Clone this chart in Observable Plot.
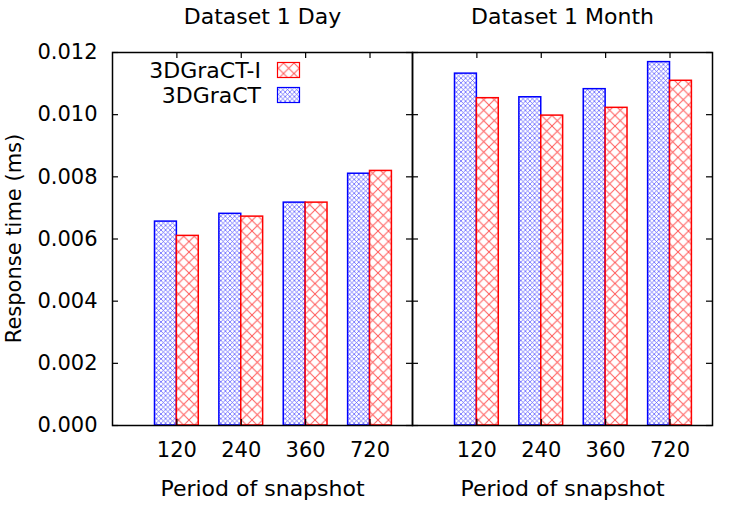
<!DOCTYPE html>
<html>
<head>
<meta charset="utf-8">
<script src="https://cdn.jsdelivr.net/npm/d3@7"></script>
<script src="https://cdn.jsdelivr.net/npm/@observablehq/plot@0.6"></script>
<style>
  html, body { margin: 0; padding: 0; background: white; }
</style>
</head>
<body>
<script>
// Response time per snapshot period, for the two datasets
const periods = ["120", "240", "360", "720"];
const datasets = ["Dataset 1 Day", "Dataset 1 Month"];
const seriesNames = ["3DGraCT", "3DGraCT-I"];

const dayGraCT    = [0.00656, 0.00681, 0.00717, 0.00810];
const dayGraCTI   = [0.00610, 0.00672, 0.00717, 0.00819];
const monthGraCT  = [0.01132, 0.01056, 0.01082, 0.01169];
const monthGraCTI = [0.01053, 0.00997, 0.01022, 0.01109];

const yTicks = [0, 0.002, 0.004, 0.006, 0.008, 0.010, 0.012];

// Long-format rows built from the arrays above
const rows = [];
periods.forEach((p, i) => {
  rows.push({dataset: datasets[0], i, period: p, series: seriesNames[0], value: dayGraCT[i]});
  rows.push({dataset: datasets[0], i, period: p, series: seriesNames[1], value: dayGraCTI[i]});
  rows.push({dataset: datasets[1], i, period: p, series: seriesNames[0], value: monthGraCT[i]});
  rows.push({dataset: datasets[1], i, period: p, series: seriesNames[1], value: monthGraCTI[i]});
});

const barW = 0.34;
const idx = periods.map((_, i) => i);
const panelW = 300, panelH = 373, tickLen = 6;

const chart = Plot.plot({
  width: 750,
  height: 525,
  marginLeft: 112,
  marginRight: 38,
  marginTop: 52,
  marginBottom: 100,
  style: {fontFamily: "DejaVu Sans", fontSize: "21px", color: "black", background: "white"},
  fx: {domain: datasets, padding: 0, axis: null},
  x: {domain: [-1, 3.66], axis: null},
  y: {domain: [0, 0.012], axis: null},
  marks: [
    Plot.rectY(rows.filter(d => d.series === "3DGraCT"), {
      fx: "dataset", x1: d => d.i - barW, x2: d => d.i, y: "value",
      fill: "url(#hatchBlue)", stroke: "#0000ff", strokeWidth: 1.5
    }),
    Plot.rectY(rows.filter(d => d.series === "3DGraCT-I"), {
      fx: "dataset", x1: d => d.i, x2: d => d.i + barW, y: "value",
      fill: "url(#hatchRed)", stroke: "#ff0000", strokeWidth: 1.5
    }),
    // inward ticks on every border
    Plot.tickY(yTicks, {y: d => d, insetRight: panelW - tickLen, stroke: "black", strokeWidth: 1.2}),
    Plot.tickY(yTicks, {y: d => d, insetLeft: panelW - tickLen, stroke: "black", strokeWidth: 1.2}),
    Plot.tickX(idx, {x: d => d, insetBottom: panelH - tickLen, stroke: "black", strokeWidth: 1.2}),
    Plot.tickX(idx, {x: d => d, insetTop: panelH - tickLen, stroke: "black", strokeWidth: 1.2}),
    Plot.frame({stroke: "black", strokeWidth: 1.5}),
    Plot.axisY({ticks: yTicks, tickFormat: d3.format(".3f"), tickSize: 0, tickPadding: 15, label: null, fontSize: 21}),
    Plot.axisX({ticks: idx, tickFormat: i => periods[i], tickSize: 0, tickPadding: 17, label: null, fontSize: 21}),
    Plot.text(datasets, {fx: d => d, text: d => d, frameAnchor: "top", lineAnchor: "bottom", dy: -29, fontSize: 22}),
    Plot.text(["Period of snapshot"], {frameAnchor: "bottom", lineAnchor: "bottom", dy: 70, fontSize: 22})
  ]
});

const svg = d3.select(chart);

// hatch fills for the bars
const defs = svg.insert("defs", ":first-child");
function hatch(id, size, color, width) {
  const p = defs.append("pattern")
    .attr("id", id)
    .attr("patternUnits", "userSpaceOnUse")
    .attr("width", size)
    .attr("height", size);
  p.append("rect").attr("width", size).attr("height", size).attr("fill", "white");
  p.append("path")
    .attr("d", `M0,0L${size},${size}M${size},0L0,${size}`)
    .attr("stroke", color)
    .attr("stroke-width", width)
    .attr("fill", "none");
}
hatch("hatchBlue", 4.6, "#5a5aff", 0.75);
hatch("hatchRed", 10.5, "#ff5a5a", 1);

// y-axis title
svg.append("text")
  .attr("transform", "translate(21,238.5) rotate(-90)")
  .attr("text-anchor", "middle")
  .attr("font-family", "DejaVu Sans")
  .attr("font-size", 21)
  .attr("fill", "black")
  .text("Response time (ms)");

// legend in the first panel
const legend = svg.append("g").attr("font-family", "DejaVu Sans").attr("font-size", 22);
[["3DGraCT-I", "url(#hatchRed)", "#ff0000", 78], ["3DGraCT", "url(#hatchBlue)", "#0000ff", 103]]
  .forEach(([name, fill, stroke, base]) => {
    legend.append("text")
      .attr("x", 261).attr("y", base)
      .attr("text-anchor", "end")
      .attr("fill", "black")
      .text(name);
    legend.append("rect")
      .attr("x", 277.5).attr("y", base - 15.5)
      .attr("width", 22).attr("height", 15)
      .attr("fill", fill).attr("stroke", stroke).attr("stroke-width", 1.2);
  });

document.body.appendChild(chart);
</script>
</body>
</html>
